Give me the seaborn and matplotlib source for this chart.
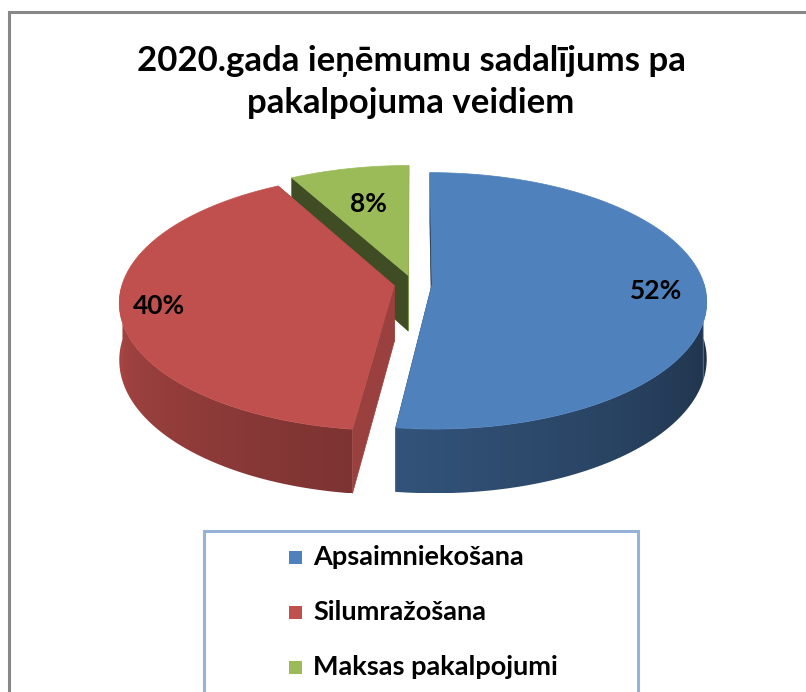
import numpy as np
import seaborn as sns
import matplotlib.pyplot as plt
import matplotlib.colors as mcolors
from matplotlib.patches import Polygon, Rectangle

# data
categories = ["Apsaimniekošana", "Silumražošana", "Maksas pakalpojumi"]
values = [52, 40, 8]
pct_labels = ["52%", "40%", "8%"]
title = "2020.gada ieņēmumu sadalījums pa\npakalpojuma veidiem"

sns.set_style("white")
plt.rcParams['font.family'] = ['Lato', 'DejaVu Sans']
palette = sns.color_palette(["#4F81BD", "#C0504D", "#9BBB59"])

W, H = 806, 692
fig = plt.figure(figsize=(W / 100, H / 100), dpi=100)
ax = fig.add_axes([0, 0, 1, 1])
ax.set_xlim(0, W)
ax.set_ylim(H, 0)
ax.axis('off')

# chart area border (gray, open at right/bottom like the crop)
ax.plot([9, 9, W], [H, 12, 12], color='#888888', lw=2.2, solid_joinstyle='miter')

ax.text(411, 82, title, ha='center', va='center', fontsize=25, fontweight='bold',
        linespacing=1.4, color='black')

# 3d pie geometry in pixels
cx, cy = 413, 284
R, Ry = 272, 126
k = 0.127      # fake perspective
D = 56         # thickness
explode = 0.07
label_r = [0.82, 0.86, 0.64]


def proj(u, v, h=0.0):
    s = 1.0 / (1.0 + k * v)
    return cx + R * u * s, cy - Ry * v * s + D * h * s


def shade(c, f):
    r, g, b = mcolors.to_rgb(c)
    return (r * f, g * f, b * f)


def side_level(deg):
    deg = deg % 360
    return np.clip(0.86 - 0.00294 * (deg - 190), 0.38, 0.9)


fracs = np.array(values, dtype=float) / sum(values)
slices = []
start = 90.0
for i, f in enumerate(fracs):
    a1 = start
    a0 = start - f * 360.0
    start = a0
    mid = np.radians((a0 + a1) / 2)
    slices.append(dict(i=i, a0=a0, a1=a1, mid=mid,
                       u0=explode * np.cos(mid), v0=explode * np.sin(mid)))

# far slices first
slices.sort(key=lambda s: -np.sin(s['mid']))

for s in slices:
    col = palette[s['i']]
    u0, v0 = s['u0'], s['v0']
    th = np.radians(np.linspace(s['a0'], s['a1'], 400))

    def rim(t, h):
        return proj(u0 + np.cos(t), v0 + np.sin(t), h)

    def cut_face(a, normal):
        t = np.radians(a)
        pts = [proj(u0, v0, 0), rim(t, 0), rim(t, 1), proj(u0, v0, 1)]
        f = 0.8 if np.cos(normal) > 0 else 0.41
        return Polygon(pts, closed=True, fc=shade(col, f), ec=shade(col, f), lw=0.5)

    faces = [(s['a1'], np.radians(s['a1'] + 90)), (s['a0'], np.radians(s['a0'] - 90))]
    back = [f for f in faces if np.sin(f[1]) > 0.01]
    front = [f for f in faces if np.sin(f[1]) <= 0.01]

    for a, n in back:
        ax.add_patch(cut_face(a, n))

    # outer side: one polygon on the near half, filled with a horizontal gradient
    near = th[np.sin(th) < 0.02]
    if len(near) > 1:
        topx, topy = rim(near, 0)
        botx, boty = rim(near, 1)
        xs = np.concatenate([topx, botx[::-1]])
        ys = np.concatenate([topy, boty[::-1]])
        side = Polygon(np.column_stack([xs, ys]), closed=True, fc='none', ec='none')
        ax.add_patch(side)
        order = np.argsort(topx)
        gx = np.linspace(xs.min(), xs.max(), 300)
        lev = np.interp(gx, topx[order], side_level(np.degrees(near[order])))
        rgb = np.array(mcolors.to_rgb(col))
        img = (lev[:, None] * rgb[None, :])[None, :, :]
        im = ax.imshow(img, extent=[xs.min(), xs.max(), ys.max(), ys.min()],
                       aspect='auto', interpolation='bilinear', zorder=side.get_zorder())
        im.set_clip_path(side)

    for a, n in front:
        ax.add_patch(cut_face(a, n))

    top = [proj(u0, v0, 0)] + list(zip(*rim(th, 0)))
    ax.add_patch(Polygon(top, closed=True, fc=col, ec=col, lw=0.5))

    lx, ly = proj(u0 + label_r[s['i']] * np.cos(s['mid']),
                  v0 + label_r[s['i']] * np.sin(s['mid']))
    ax.text(lx, ly, pct_labels[s['i']], ha='center', va='center',
            fontsize=19, fontweight='bold', color='black')

ax.set_xlim(0, W)
ax.set_ylim(H, 0)

# legend box
ax.add_patch(Rectangle((204, 531), 434, 200, fc='white', ec='#95B3D7', lw=2.2))
for i, name in enumerate(categories):
    y = 557 + 55 * i
    ax.add_patch(Rectangle((289, y - 6.5), 13, 13, fc=palette[i], ec='none'))
    ax.text(313, y, name, ha='left', va='center', fontsize=19.5,
            fontweight='bold', color='black')

fig.savefig('out.png', dpi=100)
